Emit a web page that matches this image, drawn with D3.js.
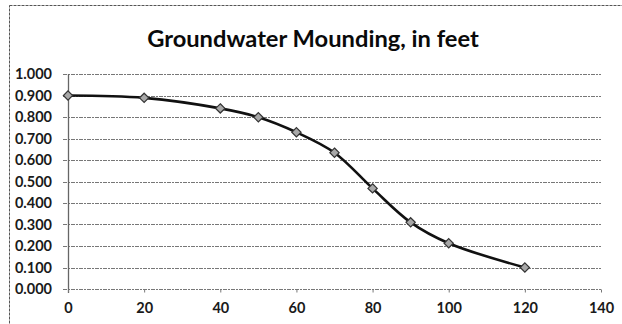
<!DOCTYPE html>
<html>
<head>
<meta charset="utf-8">
<script src="https://cdn.jsdelivr.net/npm/d3@7"></script>
<style>
  html, body { margin: 0; padding: 0; background: #fff; }
  svg { display: block; }
  text { font-family: Lato, "Open Sans", sans-serif; }
</style>
</head>
<body>
<svg id="chart" width="622" height="324"></svg>
<script>
// Groundwater mounding (feet) versus distance
const distances = [0, 20, 40, 50, 60, 70, 80, 90, 100, 120];
const mounding  = [0.900, 0.889, 0.840, 0.799, 0.729, 0.634, 0.468, 0.310, 0.213, 0.100];
const xTicks = [0, 20, 40, 60, 80, 100, 120, 140];
const yTicks = [0, 0.1, 0.2, 0.3, 0.4, 0.5, 0.6, 0.7, 0.8, 0.9, 1.0];
const titleText = "Groundwater Mounding, in feet";

const svg = d3.select("#chart");
const W = 622, H = 324;
const plot = { left: 68, right: 601, top: 74, bottom: 289 };

const x = d3.scaleLinear().domain([0, 140]).range([plot.left, plot.right]);
const y = d3.scaleLinear().domain([0, 1]).range([plot.bottom, plot.top]);

// outer chart frame
svg.append("rect")
  .attr("x", 9.5).attr("y", 5.5).attr("width", W - 9).attr("height", H)
  .attr("fill", "none").attr("stroke", "#555").attr("stroke-width", 1)
  .attr("stroke-dasharray", "3,1");

// title
svg.append("text")
  .attr("x", 313).attr("y", 47)
  .attr("text-anchor", "middle")
  .attr("font-size", 23.7).attr("font-weight", "bold").attr("fill", "#0a0a0a")
  .text(titleText);

// horizontal gridlines
svg.append("g")
  .selectAll("line").data(yTicks).join("line")
  .attr("x1", plot.left - 5).attr("x2", plot.right)
  .attr("y1", d => Math.round(y(d)) + 0.5).attr("y2", d => Math.round(y(d)) + 0.5)
  .attr("stroke", "#777").attr("stroke-width", 1)
  .attr("stroke-dasharray", "4,1,2,1");

// y axis
const yAxis = d3.axisLeft(y).tickValues(yTicks).tickFormat(d3.format(".3f")).tickSize(0).tickPadding(16);
const gy = svg.append("g").attr("transform", `translate(${plot.left},0)`).call(yAxis);
gy.select(".domain").remove();
gy.selectAll("text").attr("font-size", 14.5).attr("font-weight", "bold").attr("fill", "#1a1a1a")
  .attr("font-family", "Lato, sans-serif");

// vertical axis line
svg.append("line")
  .attr("x1", plot.left + 0.5).attr("x2", plot.left + 0.5)
  .attr("y1", plot.top).attr("y2", plot.bottom + 4)
  .attr("stroke", "#666").attr("stroke-width", 1.3);

// x axis
const xAxis = d3.axisBottom(x).tickValues(xTicks).tickFormat(d3.format("d")).tickSize(3).tickPadding(10);
const gx = svg.append("g").attr("transform", `translate(0,${Math.round(y(0)) + 0.5})`).call(xAxis);
gx.select(".domain").remove();
gx.selectAll(".tick line").attr("stroke", "#777");
gx.selectAll("text").attr("font-size", 14.5).attr("font-weight", "bold").attr("fill", "#1a1a1a")
  .attr("font-family", "Lato, sans-serif");

// smoothed series line
const pts = distances.map((d, i) => [d, mounding[i]]);
const line = d3.line()
  .x(d => x(d[0])).y(d => y(d[1]))
  .curve(d3.curveCatmullRom.alpha(0.5));
svg.append("path")
  .datum(pts)
  .attr("d", line)
  .attr("fill", "none").attr("stroke", "#111").attr("stroke-width", 2.6);

// diamond markers
const diamond = d3.symbol().type(d3.symbolDiamond2).size(55);
svg.append("g")
  .selectAll("path").data(pts).join("path")
  .attr("transform", d => `translate(${x(d[0])},${y(d[1])})`)
  .attr("d", diamond)
  .attr("fill", "#a8a8a8").attr("stroke", "#333").attr("stroke-width", 1.2);
</script>
</body>
</html>
